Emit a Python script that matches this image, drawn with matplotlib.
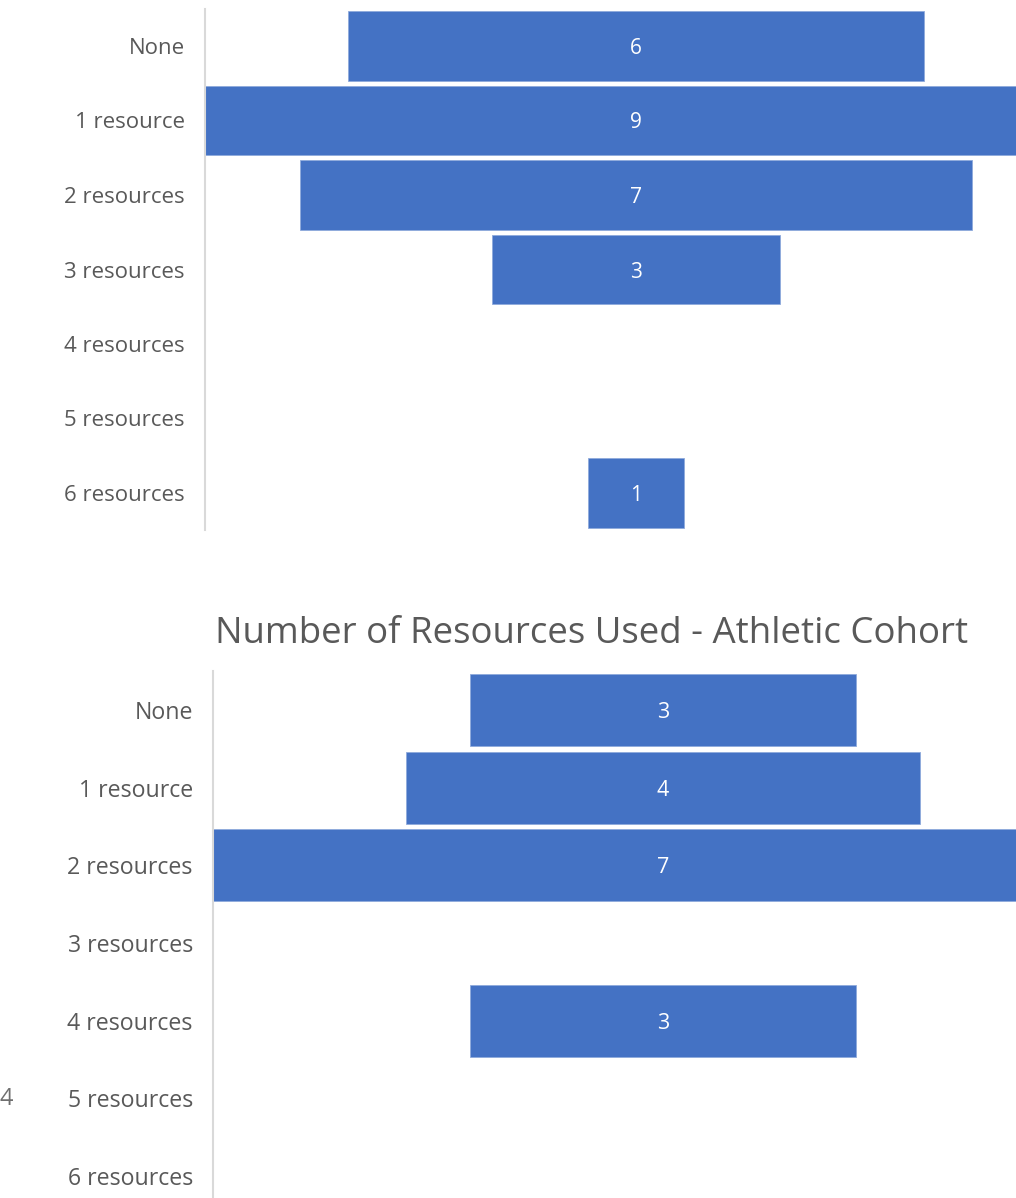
import matplotlib.pyplot as plt

plt.rcParams['font.family'] = ['Open Sans', 'DejaVu Sans']

categories = ["None", "1 resource", "2 resources", "3 resources",
              "4 resources", "5 resources", "6 resources"]
counts_top = [6, 9, 7, 3, 0, 0, 1]
counts_athletic = [3, 4, 7, 0, 3, 0, 0]
title_athletic = "Number of Resources Used - Athletic Cohort"

W, H = 1016, 1198
BLUE = "#4472C4"
GREY = "#595959"

fig = plt.figure(figsize=(W / 100, H / 100), dpi=100)


def px_axes(left, top, right, bottom):
    # axes placed by pixel edges (origin top-left)
    return fig.add_axes([left / W, 1 - bottom / H, (right - left) / W, (bottom - top) / H])


def funnel(ax, values, xlim, label_size, value_size):
    y = range(len(categories))
    for i, v in zip(y, values):
        if v <= 0:
            continue
        ax.barh(i, v, left=-v / 2, height=0.93, color=BLUE, edgecolor="#8FAADC", linewidth=0.6)
        ax.text(0, i, str(v), ha="center", va="center_baseline", color="white", fontsize=value_size)
    ax.set_xlim(*xlim)
    ax.set_ylim(len(categories) - 0.5, -0.5)
    ax.set_yticks(list(y))
    ax.set_yticklabels(categories, fontsize=label_size, color=GREY)
    ax.tick_params(axis="y", length=0, pad=14.5)
    ax.set_xticks([])
    for s in ["top", "right", "bottom"]:
        ax.spines[s].set_visible(False)
    ax.spines["left"].set_color("#D9D9D9")
    ax.spines["left"].set_linewidth(1.5)


# top chart (centre at x=636 px, 96 px per unit)
ax1 = px_axes(205, 8.75, 1016, 530.25)
funnel(ax1, counts_top, (-(636 - 205) / 96, (1016 - 636) / 96), 16, 15)

# athletic cohort chart (centre at x=663 px, 128.7 px per unit)
ax2 = px_axes(213, 671.2, 1016, 1214.8)
funnel(ax2, counts_athletic, (-(663 - 213) / 128.7, (1016 - 663) / 128.7), 16.7, 15.5)
ax2.spines["left"].set_bounds(-0.5, 6.9)

fig.text(592 / W, 1 - 634 / H, title_athletic, ha="center", va="center",
         fontsize=26.4, color=GREY)
fig.text(0, 1 - 1099 / H, "4", ha="left", va="center", fontsize=17, color="#6F6F6F")

fig.savefig("out.png", dpi=100)
